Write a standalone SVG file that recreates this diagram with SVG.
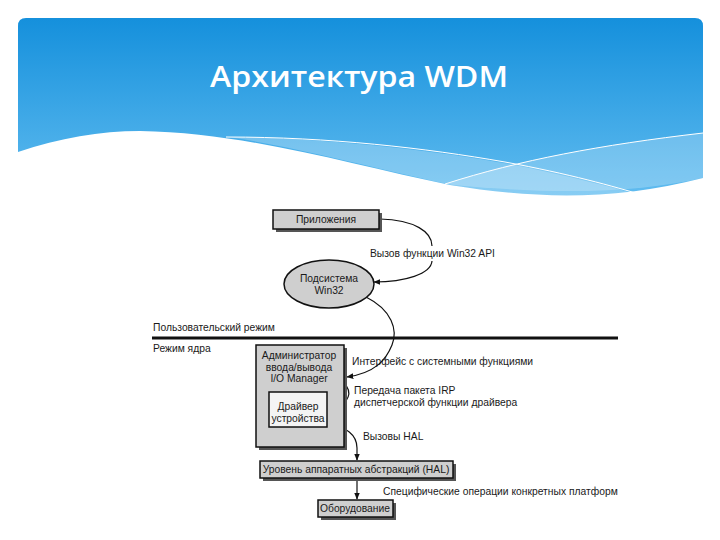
<svg xmlns="http://www.w3.org/2000/svg" width="720" height="540" viewBox="0 0 720 540">
<defs>
<linearGradient id="hdr" x1="0" y1="0" x2="0" y2="1">
<stop offset="0" stop-color="#1590dc"/>
<stop offset="1" stop-color="#62bdf0"/>
</linearGradient>
<marker id="ah" viewBox="0 0 10 10" refX="9" refY="5" markerWidth="7" markerHeight="7" orient="auto" markerUnits="userSpaceOnUse">
<path d="M0,1 L10,5 L0,9 Z" fill="#111"/>
</marker>
<style>
.t{font-family:"Liberation Sans",Arial,sans-serif;font-size:10.3px;fill:#1a1a1a}
.c{text-anchor:middle}
.box{fill:#cfcfcf;stroke:#111;stroke-width:1.5}
.sh{fill:#555}
.con{fill:none;stroke:#111;stroke-width:1.2}
</style>
</defs>
<rect width="720" height="540" fill="#fff"/>
<g id="header">
<path d="M18,26 Q18,18 26,18 H695 Q703,18 703,26 V200 H18 Z" fill="url(#hdr)"/>
<path d="M228,137 C330,138 430,150 510,164 C570,176 615,188 648,197 L520,197 C430,185 320,150 228,137 Z" fill="#fff" opacity="0.25"/>
<path d="M445,184 C520,160 600,145 703,133 V178 C640,192 560,196 445,184 Z" fill="#fff" opacity="0.22"/>
<path d="M18,152 C60,138 100,131 140,131 C250,133 350,165 450,185 C530,198 610,202 703,178 V210 H18 Z" fill="#fff"/>
<path d="M226,137 C330,137 425,148 505,162 C570,174 612,186 646,196" fill="none" stroke="#fff" stroke-width="1"/>
<path d="M445,184 C520,160 600,145 703,133" fill="none" stroke="#fff" stroke-width="1"/>
<text x="359" y="87" font-family="'Open Sans','Noto Sans',sans-serif" font-size="29" font-weight="600" fill="#fff" text-anchor="middle" textLength="298" lengthAdjust="spacingAndGlyphs">Архитектура WDM</text>
</g>
<g id="mode-line">
<line x1="152" y1="338" x2="618" y2="338" stroke="#111" stroke-width="3"/>
<text class="t" x="153" y="331">Пользовательский режим</text>
<text class="t" x="153" y="352">Режим ядра</text>
</g>
<g id="connectors">
<path class="con" d="M380,219 C415,220 432,232 432,246"/>
<path class="con" d="M432,261 C431,274 405,282 374,282" marker-end="url(#ah)"/>
<path class="con" d="M366,297 C392,310 398,330 392,345 C386,360 375,373 347,377" marker-end="url(#ah)"/>
<path class="con" d="M331,379 C346,380 353,391 346,401 C341,406 336,407 328,407" marker-end="url(#ah)"/>
<path class="con" d="M328,425 C346,426 357,435 357,448 L357,460" marker-end="url(#ah)"/>
<path class="con" d="M357,478 L357,499" marker-end="url(#ah)"/>
<text class="t" x="370" y="257">Вызов функции Win32 API</text>
<text class="t" x="352" y="365">Интерфейс с системными функциями</text>
<text class="t" x="354" y="394">Передача пакета IRP</text>
<text class="t" x="354" y="406">диспетчерской функции драйвера</text>
<text class="t" x="363" y="440">Вызовы HAL</text>
<text class="t" x="383" y="495">Специфические операции конкретных платформ</text>
</g>
<g id="apps">
<rect class="sh" x="276" y="213" width="106" height="19"/>
<rect class="box" x="273" y="210" width="106" height="19"/>
<text class="t c" x="326" y="223">Приложения</text>
</g>
<g id="win32">
<ellipse cx="329" cy="284" rx="45" ry="24" fill="#cfcfcf" stroke="#111" stroke-width="1.5"/>
<text class="t c" x="329" y="282">Подсистема</text>
<text class="t c" x="329" y="294">Win32</text>
</g>
<g id="iomanager">
<rect class="sh" x="259" y="348" width="88" height="102"/>
<rect class="box" x="256" y="345" width="88" height="102"/>
<text class="t c" x="299" y="359">Администратор</text>
<text class="t c" x="299" y="371">ввода/вывода</text>
<text class="t c" x="299" y="382">I/O Manager</text>
</g>
<g id="driver">
<rect x="269" y="392" width="58" height="35" fill="#f4f4f4" stroke="#111" stroke-width="1.5"/>
<text class="t c" x="298" y="410">Драйвер</text>
<text class="t c" x="298" y="422">устройства</text>
</g>
<g id="hal">
<rect class="sh" x="263" y="464" width="193" height="17"/>
<rect class="box" x="260" y="461" width="193" height="17"/>
<text class="t c" x="356" y="473">Уровень аппаратных абстракций (HAL)</text>
</g>
<g id="hardware">
<rect class="sh" x="321" y="503" width="75" height="17"/>
<rect class="box" x="318" y="500" width="75" height="17"/>
<text class="t c" x="355" y="512">Оборудование</text>
</g>
</svg>
